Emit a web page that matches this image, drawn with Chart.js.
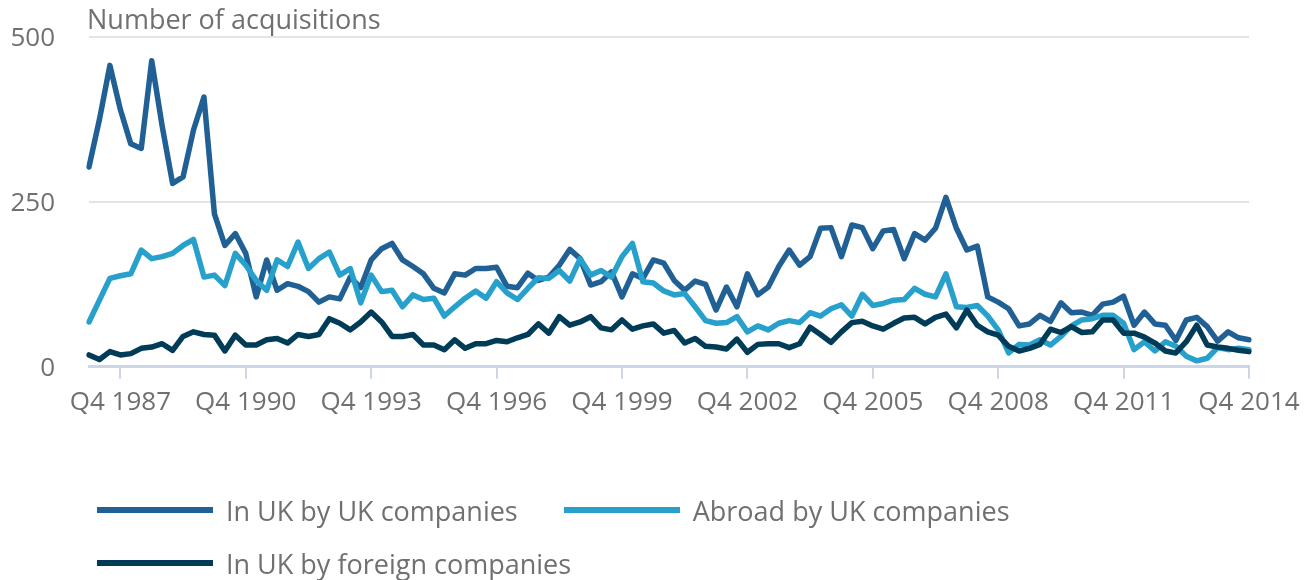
<!DOCTYPE html>
<html>
<head>
<meta charset="utf-8">
<title>Number of acquisitions</title>
<script src="https://cdn.jsdelivr.net/npm/chart.js@4.4.0/dist/chart.umd.min.js"></script>
<style>
  html, body { margin: 0; padding: 0; background: #fff; }
  #wrap { width: 1309px; height: 580px; position: relative; }
  #legend {
    position: absolute; left: 97px; top: 492px; width: 1160px;
    display: flex; flex-wrap: wrap; column-gap: 46px; row-gap: 17px;
    font-family: "Open Sans", "Noto Sans", sans-serif; font-size: 27px; color: #707071;
  }
  #legend .item { display: flex; align-items: center; height: 36px; white-space: nowrap; }
  #legend .swatch { display: inline-block; width: 116px; height: 6px; margin-right: 13px; }
</style>
</head>
<body>
<div id="wrap">
  <canvas id="acqChart"></canvas>
  <div id="legend"></div>
</div>
<script>
// categories: every quarter from Q1 1987 to Q4 2014
const quarters = [];
for (let y = 1987; y <= 2014; y++) {
  for (let q = 1; q <= 4; q++) quarters.push('Q' + q + ' ' + y);
}

// only these get a label and a tick mark
const shownTicks = ['Q4 1987', 'Q4 1990', 'Q4 1993', 'Q4 1996', 'Q4 1999',
  'Q4 2002', 'Q4 2005', 'Q4 2008', 'Q4 2011', 'Q4 2014'];

const yTicks = [0, 250, 500];

// In UK by UK companies
const ukByUk = [
  303, 375, 457, 390, 338, 331, 464, 365, 278, 288, 359, 409,
  232, 184, 202, 172, 106, 162, 116, 126, 122, 114, 98, 106,
  103, 136, 120, 162, 179, 187, 162, 152, 141, 119, 112, 141,
  139, 149, 149, 151, 122, 120, 142, 131, 136, 154, 178, 164,
  124, 129, 144, 106, 141, 134, 162, 157, 131, 116, 130, 125,
  86, 121, 91, 141, 109, 121, 152, 177, 154, 167, 210, 211,
  167, 215, 211, 179, 206, 208, 164, 202, 192, 210, 257, 210,
  177, 183, 106, 98, 88, 62, 65, 78, 69, 97, 82, 83,
  78, 95, 98, 107, 63, 83, 65, 63, 40, 71, 75, 61,
  39, 53, 44, 41
];

// Abroad by UK companies
const abroadByUk = [
  68, 101, 134, 138, 141, 177, 164, 167, 172, 184, 193, 136,
  139, 123, 172, 154, 131, 116, 162, 152, 189, 149, 164, 174,
  139, 149, 97, 139, 114, 116, 91, 109, 102, 104, 77, 91,
  104, 115, 104, 129, 112, 102, 119, 135, 134, 146, 130, 164,
  139, 146, 136, 167, 187, 129, 127, 115, 109, 111, 91, 70,
  66, 67, 76, 53, 62, 56, 66, 70, 67, 82, 77, 88,
  94, 77, 110, 93, 96, 101, 102, 119, 110, 106, 141, 91,
  90, 93, 77, 56, 21, 34, 33, 41, 33, 46, 62, 71,
  73, 78, 78, 66, 26, 38, 24, 38, 31, 16, 9, 13,
  29, 26, 28, 26
];

// In UK by foreign companies
const ukByForeign = [
  18, 11, 23, 18, 20, 28, 30, 35, 25, 46, 53, 49,
  48, 24, 48, 33, 33, 41, 43, 36, 49, 46, 49, 73,
  66, 56, 68, 83, 68, 46, 46, 49, 33, 33, 26, 41,
  28, 35, 35, 40, 38, 44, 49, 65, 51, 76, 63, 68,
  76, 59, 56, 71, 57, 62, 65, 51, 55, 36, 43, 31,
  30, 27, 42, 22, 34, 35, 35, 29, 35, 60, 49, 37,
  53, 67, 69, 62, 57, 66, 74, 75, 65, 75, 80, 59,
  86, 63, 53, 48, 31, 24, 28, 34, 57, 52, 61, 52,
  53, 71, 71, 51, 51, 45, 36, 24, 21, 38, 63, 33,
  30, 28, 25, 23
];

const textGrey = '#707071';
const gridGrey = '#e4e4e4';
const axisBlue = '#cdd5e8';
const fontFamily = '"Open Sans", "Noto Sans", sans-serif';

// the "Number of acquisitions" caption above the plot, lined up with its left edge
const axisCaption = {
  id: 'axisCaption',
  afterDraw(chart) {
    const ctx = chart.ctx;
    ctx.save();
    ctx.font = '27px ' + fontFamily;
    ctx.fillStyle = textGrey;
    ctx.textBaseline = 'middle';
    ctx.textAlign = 'left';
    ctx.fillText('Number of acquisitions', chart.chartArea.left - 2, 21);
    ctx.restore();
  }
};

const ctx = document.getElementById('acqChart').getContext('2d');
const chart = new Chart(ctx, {
  type: 'line',
  data: {
    labels: quarters,
    datasets: [
      { label: 'In UK by UK companies', data: ukByUk, borderColor: '#206095', backgroundColor: '#206095', order: 3 },
      { label: 'Abroad by UK companies', data: abroadByUk, borderColor: '#27a0cc', backgroundColor: '#27a0cc', order: 2 },
      { label: 'In UK by foreign companies', data: ukByForeign, borderColor: '#003c57', backgroundColor: '#003c57', order: 1 }
    ]
  },
  options: {
    responsive: true,
    maintainAspectRatio: false,
    animation: false,
    layout: { padding: { left: 10, right: 60, top: 37, bottom: 154 } },
    elements: {
      line: { borderWidth: 5.5, tension: 0, borderJoinStyle: 'round', borderCapStyle: 'round', fill: false },
      point: { radius: 0, hoverRadius: 0 }
    },
    scales: {
      x: {
        grid: {
          drawOnChartArea: false,
          drawTicks: true,
          tickLength: 12,
          lineWidth: 2,
          color: c => shownTicks.includes(quarters[c.index]) ? axisBlue : 'rgba(0,0,0,0)'
        },
        border: { display: true, color: axisBlue, width: 3 },
        ticks: {
          autoSkip: false,
          maxRotation: 0,
          padding: 8,
          color: textGrey,
          font: { family: fontFamily, size: 26 },
          callback: function(value, index) {
            const lab = quarters[index];
            return shownTicks.includes(lab) ? lab : '';
          }
        }
      },
      y: {
        min: 0,
        max: 500,
        afterBuildTicks: axis => { axis.ticks = yTicks.map(v => ({ value: v })); },
        afterFit: axis => {
          // fixed width so the plot starts where the original does
          axis.width = 79;
          axis.paddingTop = 0;
          axis.paddingBottom = 0;
        },
        grid: {
          drawTicks: false,
          lineWidth: 2,
          color: c => c.tick.value === 0 ? 'rgba(0,0,0,0)' : gridGrey
        },
        border: { display: false },
        ticks: {
          padding: 34,
          labelOffset: 2,
          color: textGrey,
          font: { family: fontFamily, size: 26 }
        }
      }
    },
    plugins: {
      legend: { display: false },
      tooltip: { enabled: false }
    }
  },
  plugins: [axisCaption]
});

// html legend under the chart, built from the datasets
const legendEl = document.getElementById('legend');
chart.data.datasets.forEach(ds => {
  const item = document.createElement('div');
  item.className = 'item';
  const swatch = document.createElement('span');
  swatch.className = 'swatch';
  swatch.style.background = ds.borderColor;
  const text = document.createElement('span');
  text.textContent = ds.label;
  item.append(swatch, text);
  legendEl.appendChild(item);
});
</script>
</body>
</html>
